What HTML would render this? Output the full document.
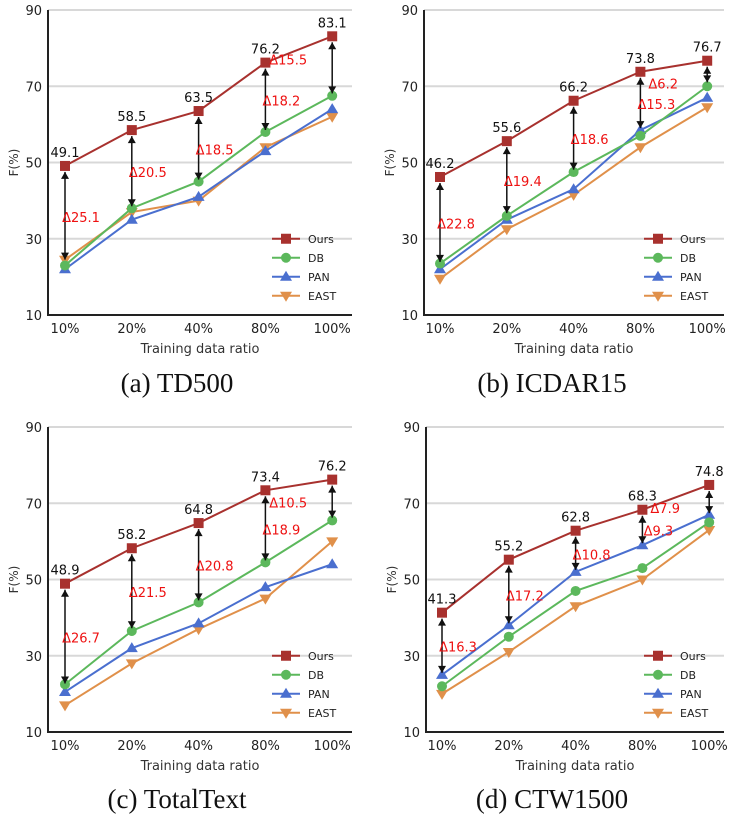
<!DOCTYPE html>
<html><head><meta charset="utf-8"><style>
body{margin:0;background:#fff;width:729px;height:822px;overflow:hidden}
svg{display:block;font-family:"DejaVu Sans","Liberation Sans",sans-serif}
</style></head><body>
<svg id="fig" width="729" height="822"></svg>
<script>
const categories=["10%","20%","40%","80%","100%"];
const yTicks=[10,30,50,70,90];
const seriesNames=["Ours","DB","PAN","EAST"];
const captions=["(a) TD500","(b) ICDAR15","(c) TotalText","(d) CTW1500"];
const oursA=[49.1,58.5,63.5,76.2,83.1],dbA=[23,38,45,58,67.5],panA=[22,35,41,53,64],eastA=[24.5,37,40,54,62];
const oursB=[46.2,55.6,66.2,73.8,76.7],dbB=[23.5,36,47.5,57,70],panB=[22,35,43,58.5,67],eastB=[19.5,32.5,41.5,54,64.5];
const oursC=[48.9,58.2,64.8,73.4,76.2],dbC=[22.5,36.5,44,54.5,65.5],panC=[20.5,32,38.5,48,54],eastC=[17,28,37,45,60];
const oursD=[41.3,55.2,62.8,68.3,74.8],dbD=[22,35,47,53,65],panD=[25,38,52,59,67],eastD=[20,31,43,50,63];
const deltaA=[25.1,20.5,18.5,18.2,15.5],deltaB=[22.8,19.4,18.6,15.3,6.2],deltaC=[26.7,21.5,20.8,18.9,10.5],deltaD=[16.3,17.2,10.8,9.3,7.9];
const panels=[
 {L:48,T:10,B:315,R:352,x0:65,s:[oursA,dbA,panA,eastA],d:deltaA,cap:captions[0],cx:177,cy:392},
 {L:424,T:10,B:315,R:724,x0:440,s:[oursB,dbB,panB,eastB],d:deltaB,cap:captions[1],cx:552,cy:392},
 {L:48,T:427,B:732,R:352,x0:65,s:[oursC,dbC,panC,eastC],d:deltaC,cap:captions[2],cx:177,cy:808},
 {L:426,T:427,B:732,R:724,x0:442,s:[oursD,dbD,panD,eastD],d:deltaD,cap:captions[3],cx:552,cy:808}];
const colors=["#a8312e","#5cb85c","#4a6fcf","#e0904a"];
const NS="http://www.w3.org/2000/svg",svg=document.getElementById("fig");
function mk(t,a,p){const e=document.createElementNS(NS,t);for(const k in a)e.setAttribute(k,a[k]);(p||svg).appendChild(e);return e;}
function marker(g,k,x,y){const c=colors[k];let e;
 if(k==0)e=mk("rect",{x:x-5,y:y-5,width:10,height:10,fill:c},g);
 else if(k==1)e=mk("circle",{cx:x,cy:y,r:5,fill:c},g);
 else if(k==2)e=mk("polygon",{points:`${x},${y-6} ${x-6},${y+4} ${x+6},${y+4}`,fill:c},g);
 else e=mk("polygon",{points:`${x},${y+6} ${x-6},${y-4} ${x+6},${y-4}`,fill:c},g);
 
 }
panels.forEach((p,pi)=>{
 const g=mk("g",{});
 
 
 const X=i=>p.x0+i*66.8, Y=v=>p.B-(v-10)/80*(p.B-p.T);
 yTicks.forEach(v=>{if(v>10){const l=mk("line",{x1:p.L,x2:p.R,y1:Y(v),y2:Y(v),stroke:"#d8d8d8","stroke-width":2},g);}
  const t=mk("text",{x:p.L-6,y:Y(v)+5,"text-anchor":"end","font-size":13,fill:"#222"},g);t.textContent=v;
  });
 const ax=mk("path",{d:`M${p.L},${p.T} V${p.B} H${p.R}`,stroke:"#222","stroke-width":2,fill:"none"},g);
 
 categories.forEach((c,i)=>{const t=mk("text",{x:X(i),y:p.B+18,"text-anchor":"middle","font-size":13,fill:"#222"},g);t.textContent=c;
  });
 let t=mk("text",{x:(p.L+p.R)/2,y:p.B+38,"text-anchor":"middle","font-size":13,fill:"#333"},g);t.textContent="Training data ratio";
 
 t=mk("text",{x:p.L-30,y:(p.T+p.B)/2,"text-anchor":"middle","font-size":12,fill:"#333",transform:`rotate(-90 ${p.L-30} ${(p.T+p.B)/2})`},g);t.textContent="F(%)";
 
 for(let k=3;k>=0;k--){const s=p.s[k];
  const pl=mk("polyline",{points:s.map((v,i)=>X(i)+","+Y(v)).join(" "),fill:"none",stroke:colors[k],"stroke-width":2},g);
  
  s.forEach((v,i)=>marker(g,k,X(i),Y(v)));}
 p.s[0].forEach((v,i)=>{
  const y1=Y(v)+6,y2=Y(v-p.d[i])-2,x=X(i);
  const a=mk("line",{x1:x,x2:x,y1:y1,y2:y2,stroke:"#111","stroke-width":1.5},g);
  
  mk("polygon",{points:`${x},${y1} ${x-4},${y1+7} ${x+4},${y1+7}`,fill:"#111"},g);
  mk("polygon",{points:`${x},${y2} ${x-4},${y2-7} ${x+4},${y2-7}`,fill:"#111"},g);
  let dt=mk("text",{x:x+16+(i==4?-60:0),y:(i==4?Y(v)+28:(y1+y2)/2+6),"text-anchor":"middle","font-size":13,fill:"#ee1111"},g);dt.textContent="Δ"+p.d[i];
  
  let vt=mk("text",{x:x,y:Y(v)-9,"text-anchor":"middle","font-size":13,fill:"#111"},g);vt.textContent=v;
  });
 seriesNames.forEach((n,k)=>{const ly=Y(30)+k*19,lx=p.R-80;
  const ll=mk("line",{x1:lx,x2:lx+28,y1:ly,y2:ly,stroke:colors[k],"stroke-width":2},g);
  
  marker(g,k,lx+14,ly);
  const lt=mk("text",{x:lx+36,y:ly+4,"font-size":11,fill:"#222"},g);lt.textContent=n;
  });
 const ct=mk("text",{x:p.cx,y:p.cy,"text-anchor":"middle","font-size":27,fill:"#111","font-family":"Liberation Serif, serif"},g);ct.textContent=p.cap;
 
});
</script>
</body></html>
